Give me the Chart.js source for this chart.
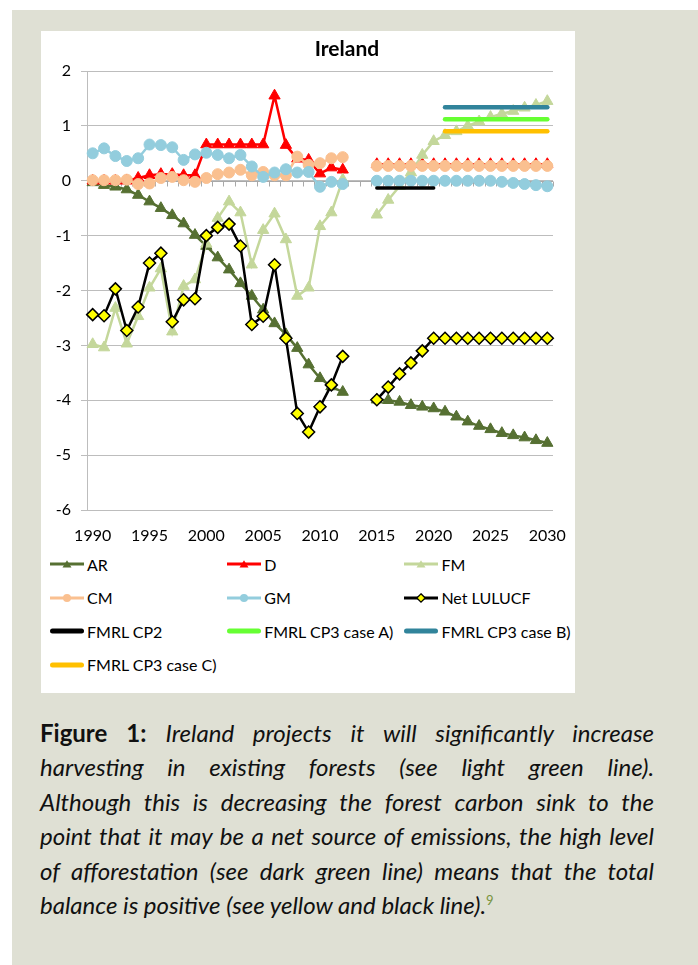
<!DOCTYPE html>
<html>
<head>
<meta charset="utf-8">
<script src="https://cdn.jsdelivr.net/npm/chart.js@4.4.1/dist/chart.umd.min.js"></script>
<style>
  body { margin: 0; width: 698px; height: 965px; background: #fff; font-family: Lato, sans-serif; position: relative; overflow: hidden; }
  #frame { position: absolute; left: 12px; top: 10px; width: 686px; height: 955px; background: #dfe0d4; }
  #box { position: absolute; left: 41px; top: 31px; width: 534px; height: 662px; background: #fff; }
  #chart { position: absolute; left: 41px; top: 31px; }
  #title { position: absolute; left: 247px; width: 200px; top: 35px; line-height: 26px; text-align: center; font-weight: bold; font-size: 21px; color: #000; }
  .leg { position: absolute; height: 20px; display: flex; align-items: center; font-size: 16px; white-space: nowrap; color: #000; }
  .leg svg { margin-right: 3px; }
  #caption { position: absolute; left: 40px; top: 716px; width: 614px; font-size: 24px; line-height: 34.4px; color: #111; }
  #caption .ln { white-space: nowrap; }
  #caption .in { display: inline-block; white-space: nowrap; }
  #caption .t { font-style: italic; }
  #caption sup { font-size: 13px; color: #77933c; font-style: normal; vertical-align: 9px; line-height: 0; }
</style>
</head>
<body>
<div id="frame"></div>
<div id="box"></div>
<canvas id="chart" width="534" height="520"></canvas>
<div id="title">Ireland</div>
<div id="legend"></div>
<div id="caption">
  <div class="ln"><span class="in"><b>Figure 1:</b> <span class="t">Ireland projects it will significantly increase</span></span></div>
  <div class="ln"><span class="in t">harvesting in existing forests (see light green line).</span></div>
  <div class="ln"><span class="in t">Although this is decreasing the forest carbon sink to the</span></div>
  <div class="ln"><span class="in t">point that it may be a net source of emissions, the high level</span></div>
  <div class="ln"><span class="in t">of afforestation (see dark green line) means that the total</span></div>
  <div class="ln"><span class="in t">balance is positive (see yellow and black line).<sup>9</sup></span></div>
</div>
<script>
// categories and tick labels
const years = ['1990', '1991', '1992', '1993', '1994', '1995', '1996', '1997', '1998', '1999',
               '2000', '2001', '2002', '2003', '2004', '2005', '2006', '2007', '2008', '2009',
               '2010', '2011', '2012', '2013', '2014', '2015', '2016', '2017', '2018', '2019',
               '2020', '2021', '2022', '2023', '2024', '2025', '2026', '2027', '2028', '2029', '2030'];
const tickYears = ['1990', '1995', '2000', '2005', '2010', '2015', '2020', '2025', '2030'];

// series values (2013 and 2014 are missing)
const ar = [-0.03, -0.08, -0.11, -0.16, -0.26, -0.38, -0.5, -0.63, -0.78, -0.99,
            -1.19, -1.4, -1.62, -1.87, -2.1, -2.35, -2.6, -2.8, -3.05, -3.35,
            -3.6, -3.75, -3.85, null, null, -3.99, -4.0, -4.03, -4.09, -4.12,
            -4.15, -4.21, -4.3, -4.39, -4.47, -4.53, -4.6, -4.64, -4.68, -4.73, -4.78];
const d = [0, 0, 0, 0, 0.05, 0.1, 0.12, 0.12, 0.1, 0.1,
           0.66, 0.66, 0.66, 0.66, 0.66, 0.66, 1.55, 0.65, 0.4, 0.38,
           0.13, 0.24, 0.2, null, null, 0.3, 0.3, 0.3, 0.3, 0.3,
           0.3, 0.3, 0.3, 0.3, 0.3, 0.3, 0.3, 0.3, 0.3, 0.3, 0.3];
const fm = [-2.98, -3.04, -2.32, -2.97, -2.47, -1.95, -1.6, -2.75, -1.92, -1.8,
            -1.15, -0.68, -0.38, -0.58, -1.53, -0.9, -0.6, -1.07, -2.1, -1.95,
            -0.83, -0.58, 0.02, null, null, -0.62, -0.35, -0.1, 0.15, 0.47,
            0.72, 0.83, 0.9, 1.0, 1.08, 1.16, 1.22, 1.27, 1.33, 1.38, 1.45];
const cm = [0.01, 0.01, 0.01, 0.02, -0.06, -0.05, 0.05, 0.07, 0.01, -0.02,
            0.05, 0.12, 0.15, 0.2, 0.1, 0.16, 0.1, 0.1, 0.44, 0.29,
            0.32, 0.41, 0.43, null, null, 0.27, 0.27, 0.27, 0.27, 0.27,
            0.27, 0.27, 0.27, 0.27, 0.27, 0.27, 0.27, 0.27, 0.27, 0.27, 0.27];
const gm = [0.5, 0.59, 0.45, 0.36, 0.41, 0.66, 0.65, 0.61, 0.38, 0.48,
            0.51, 0.47, 0.41, 0.47, 0.26, 0.07, 0.15, 0.21, 0.15, 0.16,
            -0.11, -0.02, -0.06, null, null, 0, 0, 0, 0, 0,
            0, 0, 0, 0, 0, 0, -0.02, -0.04, -0.06, -0.08, -0.1];
const net = [-2.44, -2.46, -1.97, -2.73, -2.3, -1.5, -1.32, -2.57, -2.17, -2.15,
             -1.0, -0.85, -0.79, -1.19, -2.62, -2.47, -1.53, -2.87, -4.24, -4.58,
             -4.12, -3.72, -3.2, null, null, -3.99, -3.76, -3.52, -3.32, -3.1,
             -2.87, -2.87, -2.87, -2.87, -2.87, -2.87, -2.87, -2.87, -2.87, -2.87, -2.87];
const fmrlCp2 = [null, null, null, null, null, null, null, null, null, null,
                 null, null, null, null, null, null, null, null, null, null,
                 null, null, null, null, null, -0.13, -0.13, -0.13, -0.13, -0.13,
                 -0.13, null, null, null, null, null, null, null, null, null, null];
const fmrlA = [null, null, null, null, null, null, null, null, null, null,
               null, null, null, null, null, null, null, null, null, null,
               null, null, null, null, null, null, null, null, null, null,
               null, 1.12, 1.12, 1.12, 1.12, 1.12, 1.12, 1.12, 1.12, 1.12, 1.12];
const fmrlB = [null, null, null, null, null, null, null, null, null, null,
               null, null, null, null, null, null, null, null, null, null,
               null, null, null, null, null, null, null, null, null, null,
               null, 1.34, 1.34, 1.34, 1.34, 1.34, 1.34, 1.34, 1.34, 1.34, 1.34];
const fmrlC = [null, null, null, null, null, null, null, null, null, null,
               null, null, null, null, null, null, null, null, null, null,
               null, null, null, null, null, null, null, null, null, null,
               null, 0.9, 0.9, 0.9, 0.9, 0.9, 0.9, 0.9, 0.9, 0.9, 0.9];

const series = [
    { label: 'AR', data: ar, color: '#567032', style: 'triangle', radius: 6.5 },
    { label: 'D', data: d, color: '#ff0000', style: 'triangle', radius: 6.5 },
    { label: 'FM', data: fm, color: '#c4d79b', style: 'triangle', radius: 6.5 },
    { label: 'CM', data: cm, color: '#fac090', style: 'circle', radius: 5.5 },
    { label: 'GM', data: gm, color: '#93cddd', style: 'circle', radius: 5.5 },
    { label: 'Net LULUCF', data: net, color: '#000000', fill: '#ffff00', style: 'rectRot', radius: 6 },
    { label: 'FMRL CP2', data: fmrlCp2, color: '#000000', width: 3.5 },
    { label: 'FMRL CP3 case A)', data: fmrlA, color: '#66ff33', width: 4.5 },
    { label: 'FMRL CP3 case B)', data: fmrlB, color: '#31849b', width: 4.5 },
    { label: 'FMRL CP3 case C)', data: fmrlC, color: '#ffc000', width: 4.5 }
];

// horizontal axis line crosses at 0, with a tick at each category boundary
const zeroAxis = {
    id: 'zeroAxis',
    beforeDatasetsDraw(chart) {
        const { ctx, scales: { x, y } } = chart;
        const y0 = Math.round(y.getPixelForValue(0)) + 0.5;
        ctx.save();
        ctx.strokeStyle = '#a9a9a9';
        ctx.lineWidth = 1;
        ctx.beginPath();
        ctx.moveTo(chart.chartArea.left, y0);
        ctx.lineTo(chart.chartArea.right, y0);
        for (let i = 0; i <= years.length; i++) {
            const bx = Math.round(x.getPixelForValue(i - 0.5)) + 0.5;
            ctx.moveTo(bx, y0);
            ctx.lineTo(bx, y0 + 5);
        }
        ctx.stroke();
        ctx.restore();
    }
};

const tickFont = { family: 'Lato', size: 16 };

new Chart(document.getElementById('chart'), {
    type: 'line',
    data: {
        labels: years,
        datasets: series.map((s, i) => ({
            label: s.label,
            data: s.data,
            borderColor: s.color,
            backgroundColor: s.fill || s.color,
            borderWidth: s.width || 2.5,
            borderCapStyle: s.style ? 'butt' : 'round',
            pointStyle: s.style || 'circle',
            pointRadius: s.style ? s.radius : 0,
            pointHoverRadius: s.style ? s.radius : 0,
            pointBackgroundColor: s.fill || s.color,
            pointBorderColor: s.style === 'rectRot' ? '#000' : s.color,
            pointBorderWidth: s.style === 'rectRot' ? 1.5 : 1,
            tension: 0,
            spanGaps: false,
            order: -i
        }))
    },
    options: {
        responsive: false,
        animation: false,
        devicePixelRatio: 1,
        layout: { padding: { top: 40, right: 22, left: 0, bottom: 0 } },
        plugins: {
            legend: { display: false },
            title: { display: false },
            tooltip: { enabled: false }
        },
        scales: {
            x: {
                offset: true,
                grid: { display: false },
                border: { display: false },
                ticks: {
                    autoSkip: false,
                    maxRotation: 0,
                    padding: 8,
                    color: '#000',
                    font: tickFont,
                    callback: function(value) {
                        const label = this.getLabelForValue(value);
                        return tickYears.includes(label) ? label : '';
                    }
                },
                afterFit: function(scale) { scale.height = 41; }
            },
            y: {
                min: -6,
                max: 2,
                ticks: { stepSize: 1, padding: 10, color: '#000', font: tickFont },
                grid: { color: '#bdbdbd', tickLength: 6 },
                border: { color: '#bdbdbd' },
                afterFit: function(scale) { scale.width = 46; }
            }
        }
    },
    plugins: [zeroAxis]
});

// legend, three columns like the original
function legendSample(s) {
    let svg = '<svg width="34" height="14">';
    if (s.style) {
        svg += `<line x1="0" y1="7" x2="34" y2="7" stroke="${s.color}" stroke-width="3"/>`;
    } else {
        svg += `<line x1="2.5" y1="7" x2="31.5" y2="7" stroke="${s.color}" stroke-width="5" stroke-linecap="round"/>`;
    }
    if (s.style === 'triangle') {
        svg += `<polygon points="12.5,10.5 21.5,10.5 17,3.2" fill="${s.color}"/>`;
    } else if (s.style === 'circle') {
        svg += `<circle cx="17" cy="7" r="4" fill="${s.color}"/>`;
    } else if (s.style === 'rectRot') {
        svg += `<polygon points="17,2.8 21.2,7 17,11.2 12.8,7" fill="${s.fill}" stroke="#000" stroke-width="1.3"/>`;
    }
    return svg + '</svg>';
}

const legend = document.getElementById('legend');
series.forEach((s, i) => {
    const item = document.createElement('div');
    item.className = 'leg';
    item.style.left = (50 + (i % 3) * 177.2) + 'px';
    item.style.top = (564 + Math.floor(i / 3) * 33.6 - 10) + 'px';
    item.innerHTML = legendSample(s) + '<span>' + s.label + '</span>';
    legend.appendChild(item);
});

// justify caption lines to the column width
const lines = document.querySelectorAll('#caption .in');
lines.forEach((ln, i) => {
    if (i === lines.length - 1) return;
    const w = ln.getBoundingClientRect().width;
    const spaces = (ln.textContent.match(/ /g) || []).length;
    ln.style.wordSpacing = ((614 - w) / spaces) + 'px';
});
</script>
</body>
</html>
